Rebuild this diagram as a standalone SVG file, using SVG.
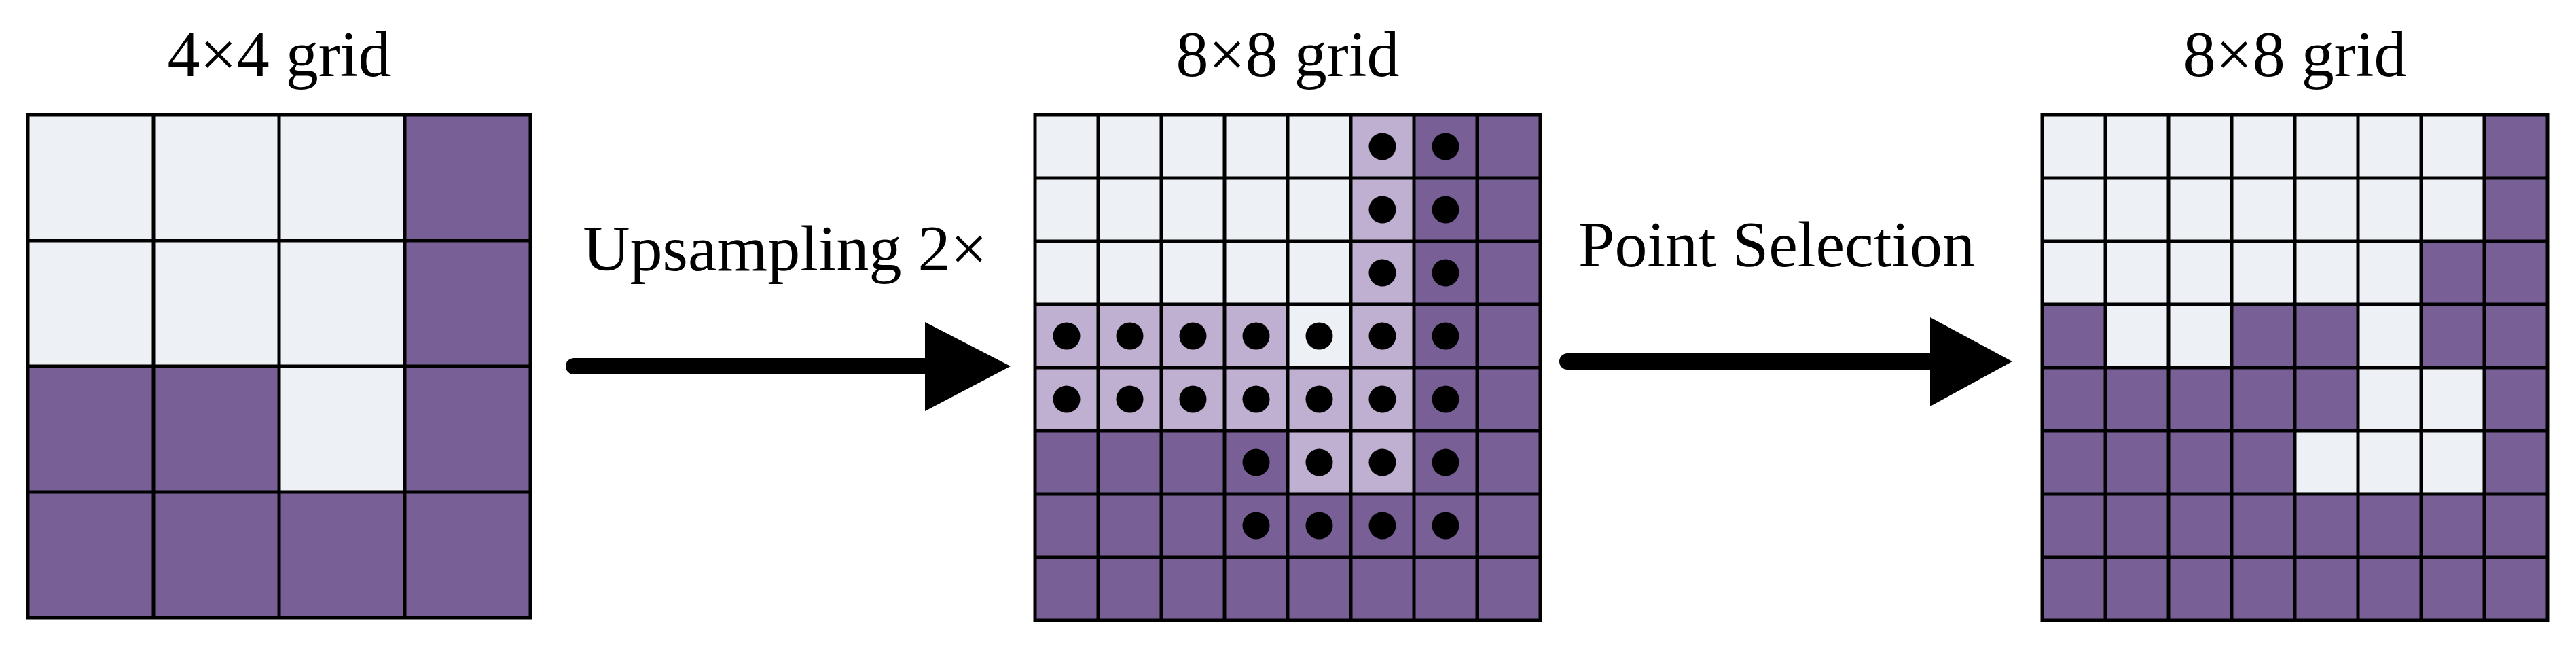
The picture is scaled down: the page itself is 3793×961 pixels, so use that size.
<svg xmlns="http://www.w3.org/2000/svg" width="3793" height="961" viewBox="0 0 3793 961">
<style>
.t{font-family:"Liberation Serif","Times New Roman",serif;font-size:96px;fill:#000}
.L{fill:#edf0f5}.D{fill:#786096}.P{fill:#bfb0d1}
.g{fill:none;stroke:#000;stroke-width:5}
.dot{fill:#000}
</style>
<rect width="3793" height="961" fill="#fff"/>
<g id="grid4">
<text class="t" x="411" y="112" text-anchor="middle">4×4 grid</text>
<rect class="D" x="41" y="169" width="740" height="740"/>
<rect class="L" x="41" y="169" width="555" height="370"/>
<rect class="L" x="411" y="539" width="185" height="185"/>
<path class="g" d="M41 169H781V909H41Z M226 169V909 M411 169V909 M596 169V909 M41 354H781 M41 539H781 M41 724H781"/>
</g>
<g id="grid8a">
<text class="t" x="1896" y="112" text-anchor="middle">8×8 grid</text>
<rect class="D" x="1524" y="169" width="744" height="744"/>
<rect class="L" x="1524" y="169" width="465" height="279"/>
<rect class="P" x="1989" y="169" width="93" height="558"/>
<rect class="P" x="1524" y="448" width="465" height="186"/>
<rect class="L" x="1896" y="448" width="93" height="93"/>
<rect class="P" x="1896" y="634" width="93" height="93"/>
<path class="g" d="M1524 169H2268V913H1524Z M1617 169V913 M1710 169V913 M1803 169V913 M1896 169V913 M1989 169V913 M2082 169V913 M2175 169V913 M1524 262H2268 M1524 355H2268 M1524 448H2268 M1524 541H2268 M1524 634H2268 M1524 727H2268 M1524 820H2268"/>
<g class="dot">
<circle cx="2035.5" cy="215.5" r="20"/><circle cx="2128.5" cy="215.5" r="20"/>
<circle cx="2035.5" cy="308.5" r="20"/><circle cx="2128.5" cy="308.5" r="20"/>
<circle cx="2035.5" cy="401.5" r="20"/><circle cx="2128.5" cy="401.5" r="20"/>
<circle cx="1570.5" cy="494.5" r="20"/><circle cx="1663.5" cy="494.5" r="20"/><circle cx="1756.5" cy="494.5" r="20"/><circle cx="1849.5" cy="494.5" r="20"/><circle cx="1942.5" cy="494.5" r="20"/><circle cx="2035.5" cy="494.5" r="20"/><circle cx="2128.5" cy="494.5" r="20"/>
<circle cx="1570.5" cy="587.5" r="20"/><circle cx="1663.5" cy="587.5" r="20"/><circle cx="1756.5" cy="587.5" r="20"/><circle cx="1849.5" cy="587.5" r="20"/><circle cx="1942.5" cy="587.5" r="20"/><circle cx="2035.5" cy="587.5" r="20"/><circle cx="2128.5" cy="587.5" r="20"/>
<circle cx="1849.5" cy="680.5" r="20"/><circle cx="1942.5" cy="680.5" r="20"/><circle cx="2035.5" cy="680.5" r="20"/><circle cx="2128.5" cy="680.5" r="20"/>
<circle cx="1849.5" cy="773.5" r="20"/><circle cx="1942.5" cy="773.5" r="20"/><circle cx="2035.5" cy="773.5" r="20"/><circle cx="2128.5" cy="773.5" r="20"/>
</g>
</g>
<g id="grid8b">
<text class="t" x="3379" y="112" text-anchor="middle">8×8 grid</text>
<rect class="D" x="3007" y="169" width="744" height="744"/>
<rect class="L" x="3007" y="169" width="651" height="186"/>
<rect class="L" x="3007" y="355" width="558" height="93"/>
<rect class="L" x="3100" y="448" width="186" height="93"/>
<rect class="L" x="3472" y="448" width="93" height="93"/>
<rect class="L" x="3472" y="541" width="186" height="93"/>
<rect class="L" x="3379" y="634" width="279" height="93"/>
<path class="g" d="M3007 169H3751V913H3007Z M3100 169V913 M3193 169V913 M3286 169V913 M3379 169V913 M3472 169V913 M3565 169V913 M3658 169V913 M3007 262H3751 M3007 355H3751 M3007 448H3751 M3007 541H3751 M3007 634H3751 M3007 727H3751 M3007 820H3751"/>
</g>
<g id="connectors">
<text class="t" x="1156" y="398" text-anchor="middle">Upsampling 2×</text>
<line x1="845" y1="539" x2="1370" y2="539" stroke="#000" stroke-width="24" stroke-linecap="round"/>
<polygon points="1362,474 1488,539 1362,605" fill="#000"/>
<text class="t" x="2616" y="392" text-anchor="middle">Point Selection</text>
<line x1="2308" y1="532" x2="2850" y2="532" stroke="#000" stroke-width="24" stroke-linecap="round"/>
<polygon points="2842,467 2963,532 2842,598" fill="#000"/>
</g>
</svg>
